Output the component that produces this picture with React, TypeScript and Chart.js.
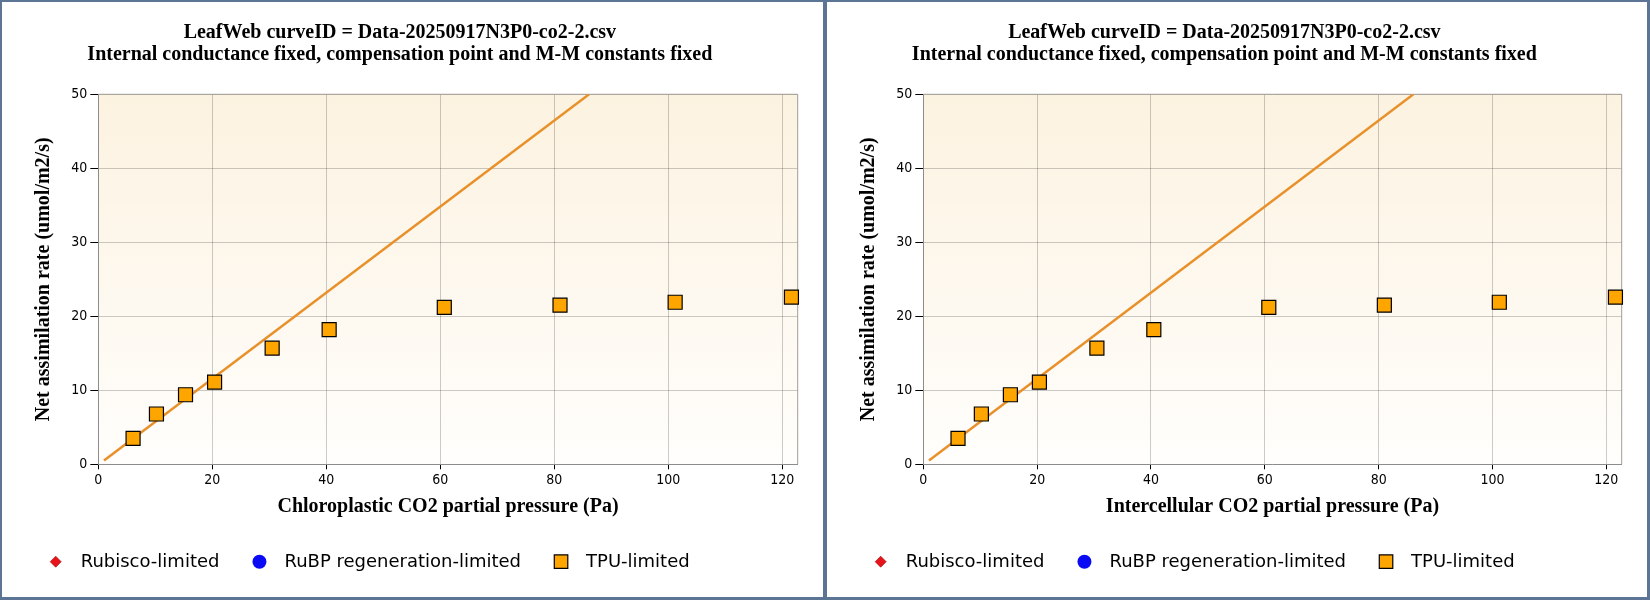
import { useEffect, useRef } from 'react';
import { Chart, registerables } from 'chart.js';

Chart.register(...registerables);

const titleLines = [
    'LeafWeb curveID = Data-20250917N3P0-co2-2.csv',
    'Internal conductance fixed, compensation point and M-M constants fixed',
];
const yAxisTitle = 'Net assimilation rate (umol/m2/s)';
const xAxisTitles = ['Chloroplastic CO2 partial pressure (Pa)', 'Intercellular CO2 partial pressure (Pa)'];

// observed points (TPU-limited)
const observedCi = [6.1, 10.2, 15.3, 20.4, 30.5, 40.5, 60.7, 81.0, 101.2, 121.6];
const observedA = [3.5, 6.8, 9.4, 11.1, 15.7, 18.2, 21.2, 21.5, 21.9, 22.6];

// fitted curve, read at its two visible ends
const fitCi = [1.0, 86.1];
const fitA = [0.5, 50];

const xMax = 122.7;
const yMax = 50;
const xStep = 20;
const yStep = 10;

const legendLabels = ['Rubisco-limited', 'RuBP regeneration-limited', 'TPU-limited'];
const legendShapes = ['diamond', 'circle', 'square'];
const legendColors = ['#e8141c', '#0a0af5', '#ffa500'];

const serif = '"Liberation Serif", "Times New Roman", serif';
const sans = '"DejaVu Sans Condensed", "DejaVu Sans", sans-serif';
const gridColor = 'rgba(0, 0, 0, 0.2)';

function drawMarker(ctx: CanvasRenderingContext2D, shape: string, color: string, x: number, y: number) {
    ctx.beginPath();
    if (shape === 'diamond') {
        ctx.moveTo(x, y - 5.5);
        ctx.lineTo(x + 5.5, y);
        ctx.lineTo(x, y + 5.5);
        ctx.lineTo(x - 5.5, y);
        ctx.closePath();
        ctx.fillStyle = color;
        ctx.fill();
        ctx.strokeStyle = '#9a0000';
        ctx.lineWidth = 0.6;
        ctx.stroke();
    } else if (shape === 'circle') {
        ctx.arc(x, y, 7, 0, Math.PI * 2);
        ctx.fillStyle = color;
        ctx.fill();
    } else {
        ctx.rect(x - 6.75, y - 6.75, 13.5, 13.5);
        ctx.fillStyle = color;
        ctx.fill();
        ctx.strokeStyle = '#000';
        ctx.lineWidth = 1.2;
        ctx.stroke();
    }
}

const limitLegend = {
    id: 'limitLegend',
    afterDraw(chart: Chart) {
        const { ctx } = chart;
        const y = chart.height - 35.3;
        let cx = 53.7;
        ctx.save();
        ctx.font = '18px "DejaVu Sans", sans-serif';
        ctx.textBaseline = 'alphabetic';
        legendLabels.forEach((label, i) => {
            drawMarker(ctx, legendShapes[i], legendColors[i], cx, y);
            const tx = cx + 25;
            ctx.fillStyle = '#000';
            ctx.fillText(label, tx, y + 5.6);
            cx = tx + ctx.measureText(label).width + 40;
        });
        ctx.restore();
    },
};

const plotFrame = {
    id: 'plotFrame',
    beforeDraw(chart: Chart) {
        const { ctx, chartArea: a } = chart;
        const g = ctx.createLinearGradient(0, a.top, 0, a.bottom);
        g.addColorStop(0, '#fcf2e0');
        g.addColorStop(1, '#fffefc');
        ctx.save();
        ctx.fillStyle = g;
        ctx.fillRect(a.left, a.top, a.right - a.left, a.bottom - a.top);
        ctx.restore();
    },
    beforeDatasetsDraw(chart: Chart) {
        const { ctx, chartArea: a } = chart;
        ctx.save();
        ctx.strokeStyle = '#a29e97';
        ctx.lineWidth = 1;
        ctx.beginPath();
        ctx.moveTo(a.left, a.top);
        ctx.lineTo(a.right, a.top);
        ctx.lineTo(a.right, a.bottom);
        ctx.stroke();
        ctx.restore();
    },
};

function AciPanel({ xTitle, left, width }: { xTitle: string; left: number; width: number }) {
    const canvasRef = useRef<HTMLCanvasElement | null>(null);

    useEffect(() => {
        if (!canvasRef.current) {
            return;
        }

        const chart = new Chart(canvasRef.current, {
            type: 'scatter',
            data: {
                datasets: [
                    {
                        label: 'TPU-limited',
                        data: observedCi.map((x, i) => ({ x, y: observedA[i] })),
                        pointStyle: 'rect',
                        pointRadius: 9.9,
                        pointBackgroundColor: '#ffa500',
                        pointBorderColor: '#000',
                        pointBorderWidth: 1.2,
                        clip: false,
                    },
                    {
                        label: 'fit',
                        data: fitCi.map((x, i) => ({ x, y: fitA[i] })),
                        showLine: true,
                        borderColor: '#e8902a',
                        borderWidth: 2.5,
                        pointRadius: 0,
                    },
                    { label: 'Rubisco-limited', data: [] },
                    { label: 'RuBP regeneration-limited', data: [] },
                ],
            },
            options: {
                responsive: false,
                animation: false,
                layout: { padding: { left: 0, right: 25.3, top: 0, bottom: 78.45 } },
                plugins: {
                    legend: { display: false },
                    tooltip: { enabled: false },
                    title: {
                        display: true,
                        text: titleLines,
                        color: '#000',
                        font: { family: serif, weight: 'bold', size: 20, lineHeight: 1.1 },
                        padding: { top: 19.5, bottom: 28.8 },
                    },
                },
                scales: {
                    x: {
                        type: 'linear',
                        min: 0,
                        max: xMax,
                        afterFit: (scale) => { scale.height = 54.25; },
                        ticks: { stepSize: xStep, includeBounds: false, color: '#000', font: { family: sans, size: 14 }, padding: 3, maxRotation: 0 },
                        grid: { color: gridColor, tickColor: '#000', tickLength: 5 },
                        border: { color: '#8c8c8c' },
                        title: { display: true, text: xTitle, color: '#000', font: { family: serif, weight: 'bold', size: 20 }, padding: { top: 0, bottom: 0 } },
                    },
                    y: {
                        type: 'linear',
                        min: 0,
                        max: yMax,
                        afterFit: (scale) => { scale.width = 96.3; },
                        ticks: { stepSize: yStep, color: '#000', font: { family: sans, size: 14 }, padding: 3 },
                        grid: { color: gridColor, tickColor: '#000', tickLength: 8 },
                        border: { color: '#8c8c8c' },
                        title: { display: true, text: yAxisTitle, color: '#000', font: { family: serif, weight: 'bold', size: 20 }, padding: { top: 30, bottom: 0 } },
                    },
                },
            },
            plugins: [plotFrame, limitLegend],
        });

        return () => chart.destroy();
    }, [xTitle]);

    return (
        <div style={{ position: 'absolute', left, top: 2, width, height: 595, background: '#fff' }}>
            <canvas ref={canvasRef} width={width} height={595} style={{ display: 'block' }} />
        </div>
    );
}

export default function App() {
    return (
        <div style={{ position: 'absolute', left: 0, top: 0, width: 1650, height: 600, background: '#5d7595' }}>
            <AciPanel xTitle={xAxisTitles[0]} left={2} width={821} />
            <AciPanel xTitle={xAxisTitles[1]} left={827} width={820} />
        </div>
    );
}
